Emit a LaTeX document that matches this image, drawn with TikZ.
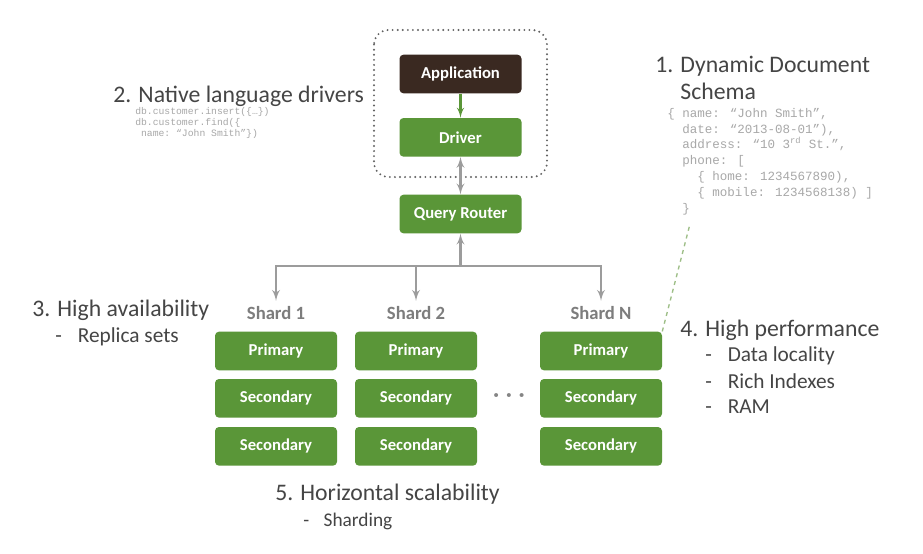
\documentclass[tikz,border=0pt]{standalone}
\usepackage{fontspec}
\setmainfont{Carlito}
\newfontfamily\codefont{Liberation Mono}
\usetikzlibrary{arrows,positioning}
\definecolor{leaf}{HTML}{5A9638}
\definecolor{bark}{HTML}{3A2921}
\definecolor{pipe}{HTML}{9C9C9C}
\definecolor{ink}{HTML}{454545}
\definecolor{codegray}{HTML}{A8A8A8}
\definecolor{tie}{HTML}{9DBE86}
\tikzstyle{member} = [fill=leaf, rectangle, rounded corners=3pt, text=white,
minimum height=29pt, minimum width=91.5pt, font=\bfseries\fontsize{12.5}{14}\selectfont]
\tikzstyle{client} = [member, fill=bark]
\tikzstyle{heading} = [anchor=west, inner sep=0pt, text=ink, font=\fontsize{17.8}{21}\selectfont]
\tikzstyle{point} = [anchor=west, inner sep=0pt, text=ink, font=\fontsize{16}{19}\selectfont]
\tikzstyle{code} = [anchor=north west, inner sep=0pt, align=left, text=codegray]
\tikzstyle{shard} = [inner sep=4pt, text=pipe!80!black, font=\bfseries\fontsize{14}{16}\selectfont]

\begin{document}
\begin{tikzpicture}[x=0.75pt, y=-0.75pt, >=latex']
\fill[white] (0,0) rectangle (923,553);
\useasboundingbox (0,0) rectangle (923,553);

% client side
\node [client] (app) at (460.5,74) {Application};
\node [member, below of=app, node distance=47.5pt] (driver) {Driver};
\node [member, below of=driver, node distance=57.5pt] (router) {Query Router};
\draw [line width=1.6pt, dash pattern=on 0pt off 3.8pt, line cap=round, ink!85, rounded corners=11pt]
  (374,30) rectangle (547,177);

\draw [->, leaf, line width=1.6pt] (app) -- (driver);
\draw [<->, pipe, line width=1.8pt] (driver) -- (router);

% shards
\node [shard] (sh1) at (276,313) {Shard 1};
\node [shard] (sh2) at (416,313) {Shard 2};
\node [shard] (shN) at (601,313) {Shard N};

\node [member] (p1) at (276,351) {Primary};
\node [member, below of=p1, node distance=35.5pt] (s1a) {Secondary};
\node [member, below of=s1a, node distance=36pt] (s1b) {Secondary};
\node [member] (p2) at (416,351) {Primary};
\node [member, below of=p2, node distance=35.5pt] (s2a) {Secondary};
\node [member, below of=s2a, node distance=36pt] (s2b) {Secondary};
\node [member] (pN) at (601,351) {Primary};
\node [member, below of=pN, node distance=35.5pt] (sNa) {Secondary};
\node [member, below of=sNa, node distance=36pt] (sNb) {Secondary};

\node [text=pipe!85!black, font=\bfseries\fontsize{16}{16}\selectfont] (gap) at (509,398) {·\,\,·\,\,·};

\coordinate (fork) at (460.5,266);
\draw [->, pipe, line width=1.8pt] (fork) -- (router);
\draw [->, pipe, line width=1.8pt] (fork) -| (sh1);
\draw [->, pipe, line width=1.8pt] (fork) -| (sh2);
\draw [->, pipe, line width=1.8pt] (fork) -| (shN);

% notes
\node [heading] (native) at (113,96) {2. Native language drivers};
\node [code, font=\codefont\fontsize{7.3}{8.3}\selectfont] (drivercode) at (135,107)
  {db.customer.insert(\{…\})\\db.customer.find(\{\\\ name:\ “John Smith”\})};

\node [heading, align=left, font=\fontsize{17.8}{20.3}\selectfont] (schema) at (655,78)
  {1. Dynamic Document\\\phantom{1. }Schema};
\node [code, font=\codefont\fontsize{9.4}{11.85}\selectfont] (doc) at (667,108)
  {\{ name: “John Smith”,\\
   \ \ date: “2013-08-01”),\\
   \ \ address: “10 3\textsuperscript{rd} St.”,\\
   \ \ phone: [\\
   \ \ \ \ \{ home: 1234567890),\\
   \ \ \ \ \{ mobile: 1234568138) ]\\
   \ \ \}};
\coordinate (docfoot) at (690,224);
\draw [dashed, tie, line width=1pt] (pN.north east) -- (docfoot);

\node [heading] (avail) at (32,310) {3. High availability};
\node [point] (replica) at (55,337) {-\hspace{0.75em}Replica sets};

\node [heading] (perf) at (680,330) {4. High performance};
\node [point] (locality) at (705,356) {-\hspace{0.75em}Data locality};
\node [point] (indexes) at (705,381) {-\hspace{0.75em}Rich Indexes};
\node [point] (ram) at (705,407) {-\hspace{0.75em}RAM};

\node [heading] (scale) at (275,494) {5. Horizontal scalability};
\node [point, font=\fontsize{14.5}{17}\selectfont] (sharding) at (303,521) {-\hspace{0.75em}Sharding};
\end{tikzpicture}
\end{document}
